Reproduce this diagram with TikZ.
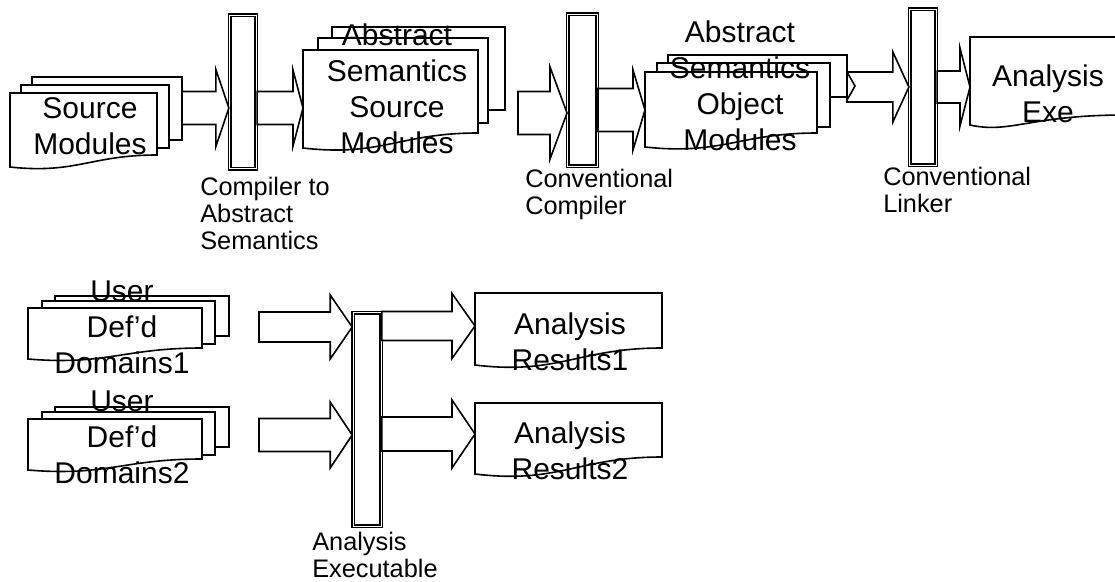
\documentclass[tikz,border=0pt]{standalone}
\usepackage{fontspec}
\setmainfont{Liberation Sans}
\usepackage{tikz}
\usetikzlibrary{calc}

% plain sheet behind a stack
\newcommand{\docback}[4]{\draw[doc_style] (#1,#2) rectangle (#3,#4);}
% front sheet with wavy bottom
\newcommand{\docfront}[5]{\draw[doc_style] (#3,#2) -- (#1,#2) -- (#1,#4)
  .. controls ({#1+0.45*(#3-#1)},{#4+0.6*#5}) and ({#1+0.55*(#3-#1)},{#4-#5}) .. (#3,{#4-#5}) -- cycle;}
% wide block arrow: tail, tip, shaft half, head half, head length
\newcommand{\blockarrow}[5]{\draw[arrow_style] let \p1=(#1), \p2=(#2) in
  (\x1,{\y2+0.75*#3}) -- ({\x2-0.75*#5},{\y2+0.75*#3}) -- ({\x2-0.75*#5},{\y2+0.75*#4}) -- (\x2,\y2)
  -- ({\x2-0.75*#5},{\y2-0.75*#4}) -- ({\x2-0.75*#5},{\y2-0.75*#3}) -- (\x1,{\y2-0.75*#3}) -- cycle;}

\begin{document}
\begin{tikzpicture}[x=0.75pt,y=-0.75pt,
		doc_style/.style={draw=black,fill=white,line width=1.2pt},
		bar_style/.style={draw=black,fill=white,line width=1.2pt,double=white,double distance=0.7pt,inner sep=0pt},
		arrow_style/.style={draw=black,fill=white,line width=1.2pt,line join=miter},
		text_style/.style={font=\fontsize{22.5pt}{27pt}\selectfont,align=center,anchor=base,inner sep=0pt},
		label_style/.style={font=\fontsize{19pt}{20pt}\selectfont,align=left,anchor=base west,inner sep=0pt}]

		\useasboundingbox (0,0) rectangle (1115,582);

		% document stacks
		\docback{32}{77}{182}{140}
		\docback{21}{85}{169}{148}
		\docfront{10}{93}{157}{167}{12}

		\docback{332}{27}{505}{110}
		\docback{318}{38}{488}{123}
		\docfront{303}{50}{478}{148}{15}

		\docback{668}{55}{847}{97}
		\docback{657}{63}{830}{127}
		\docfront{645}{72}{817}{147}{14}

		\draw[doc_style] (1125,37) -- (970,37) -- (970,125) .. controls (1010,134) and (1030,115) .. (1125,115);

		\docback{55}{296}{229}{336}
		\docback{42}{301}{215}{344}
		\docfront{28}{308}{202}{359}{11}

		\docback{55}{407}{229}{447}
		\docback{42}{412}{215}{455}
		\docfront{28}{419}{202}{470}{11}

		\docfront{475}{293}{662}{365}{17}
		\docfront{475}{403}{662}{474}{17}

		% tools
		\node[bar_style,minimum width=20pt,minimum height=115pt] (cas) at (243,92) {};
		\node[bar_style,minimum width=22pt,minimum height=114pt] (cc) at (582.5,90) {};
		\node[bar_style,minimum width=20pt,minimum height=117pt] (cl) at (923,87) {};
		\node[bar_style,minimum width=21pt,minimum height=160pt] (ae) at (367,419.5) {};

		% arrow ends
		\coordinate (t1) at (182,108);
		\coordinate (h2) at (303,108);
		\coordinate (t3) at (518,113);
		\coordinate (h4) at (645,110);
		\coordinate (t5) at (847,87);
		\coordinate (h6) at (970,87);
		\coordinate (t7) at (259,327);
		\coordinate (t8) at (259,435);
		\coordinate (h9) at (475,326);
		\coordinate (h10) at (475,434);

		\blockarrow{t1}{cas.west |- t1}{16.5}{38.5}{13}
		\blockarrow{cas.east |- h2}{h2}{16.5}{38}{10}
		\blockarrow{t3}{cc.west |- t3}{21.5}{46}{17}
		\blockarrow{cc.east |- h4}{h4}{21.5}{40}{12}
		\blockarrow{t5}{cl.west |- t5}{15}{35}{16}
		\blockarrow{cl.east |- h6}{h6}{16}{39}{10}
		\blockarrow{t7}{ae.west |- t7}{15}{32}{22}
		\blockarrow{t8}{ae.west |- t8}{16.5}{33}{22}
		\blockarrow{ae.east |- h9}{h9}{14.5}{32.5}{23}
		\blockarrow{ae.east |- h10}{h10}{17}{34}{23}
		\draw[line width=1.2pt] (847,72) -- (855,86) -- (847,100);

		% texts (placed at the baseline of their last line)
		\node[text_style] (srcmod) at (90,154) {Source\\Modules};
		\node[text_style] (assm) at (397,153) {Abstract\\Semantics\\Source\\Modules};
		\node[text_style] (asom) at (740,150) {Abstract\\Semantics\\Object\\Modules};
		\node[text_style] (exe) at (1048,122) {Analysis\\Exe};
		\node[text_style] (udd1) at (122,373) {User\\Def'd\\Domains1};
		\node[text_style] (udd2) at (122,483) {User\\Def'd\\Domains2};
		\node[text_style] (res1) at (570,370) {Analysis\\Results1};
		\node[text_style] (res2) at (570,479) {Analysis\\Results2};

		\node[label_style] (lcas) at (200,249) {Compiler to\\Abstract\\Semantics};
		\node[label_style] (lcc) at (525,214) {Conventional\\Compiler};
		\node[label_style] (lcl) at (883,212) {Conventional\\Linker};
		\node[label_style] (lae) at (312,577) {Analysis\\Executable};

\end{tikzpicture}
\end{document}
